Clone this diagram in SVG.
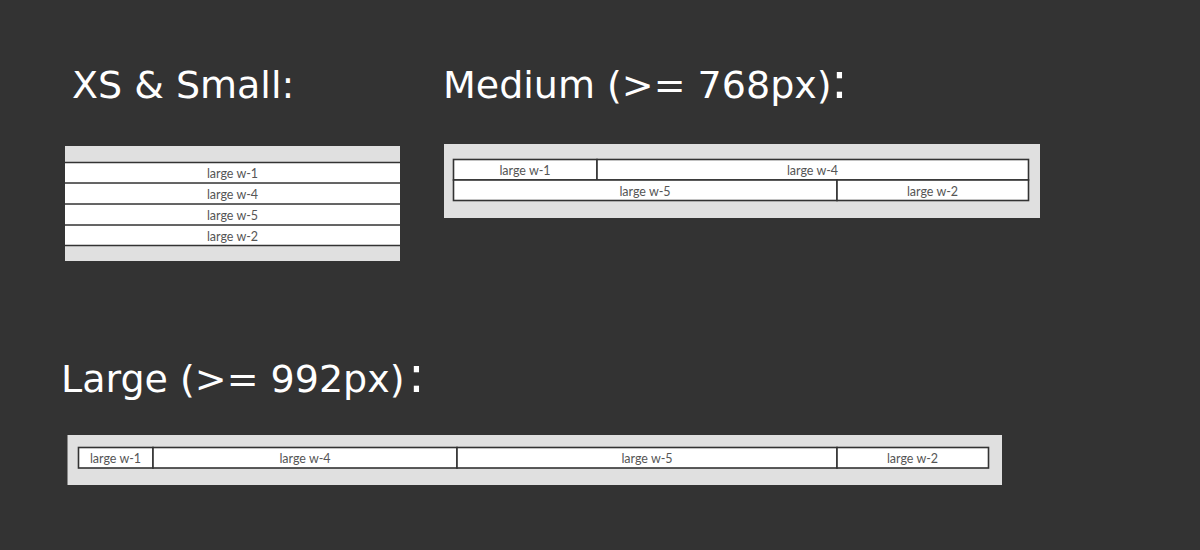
<svg xmlns="http://www.w3.org/2000/svg" width="1200" height="550" viewBox="0 0 1200 550">
<style>
.title{font-family:"DejaVu Sans","Liberation Sans",sans-serif;font-size:38px;fill:#ffffff}
.colon{font-family:"DejaVu Sans","Liberation Sans",sans-serif;font-size:50px;fill:#ffffff}
.panel{fill:#e0e0e0}
.cell{fill:#ffffff;stroke:#333333;stroke-width:1.6}
.line{stroke:#333333;stroke-width:1.6}
.lbl{font-family:Lato,"Open Sans",sans-serif;font-size:12.5px;fill:#555555;text-anchor:middle}
</style>
<rect width="1200" height="550" fill="#333333"/>

<g id="titles">
<text class="title" x="72" y="98">XS &amp; Small:</text>
<text class="title" x="443" y="98">Medium (&gt;= 768px)</text>
<text class="colon" x="831" y="98">:</text>
<text class="title" x="61" y="392">Large (&gt;= 992px)</text>
<text class="colon" x="408" y="392">:</text>
</g>

<g id="xs-small">
<rect class="panel" x="65" y="146" width="335" height="115"/>
<g id="xs-w1"><rect x="65" y="162.5" width="335" height="21" fill="#fff"/><text class="lbl" x="232.5" y="177.5">large w-1</text></g>
<g id="xs-w4"><rect x="65" y="183.5" width="335" height="21" fill="#fff"/><text class="lbl" x="232.5" y="198.5">large w-4</text></g>
<g id="xs-w5"><rect x="65" y="204.5" width="335" height="21" fill="#fff"/><text class="lbl" x="232.5" y="219.5">large w-5</text></g>
<g id="xs-w2"><rect x="65" y="225.5" width="335" height="20" fill="#fff"/><text class="lbl" x="232.5" y="240.5">large w-2</text></g>
<line class="line" x1="65" y1="162.5" x2="400" y2="162.5"/>
<line class="line" x1="65" y1="183" x2="400" y2="183"/>
<line class="line" x1="65" y1="204" x2="400" y2="204"/>
<line class="line" x1="65" y1="225" x2="400" y2="225"/>
<line class="line" x1="65" y1="245.5" x2="400" y2="245.5"/>
</g>

<g id="medium">
<rect class="panel" x="444" y="144" width="596" height="74"/>
<g id="md-w1"><rect class="cell" x="453.5" y="159.5" width="143.5" height="20.5"/><text class="lbl" x="525" y="175">large w-1</text></g>
<g id="md-w4"><rect class="cell" x="597" y="159.5" width="431.5" height="20.5"/><text class="lbl" x="812.5" y="175">large w-4</text></g>
<g id="md-w5"><rect class="cell" x="453.5" y="180" width="383.5" height="20.5"/><text class="lbl" x="645" y="195.5">large w-5</text></g>
<g id="md-w2"><rect class="cell" x="837" y="180" width="191.5" height="20.5"/><text class="lbl" x="932.5" y="195.5">large w-2</text></g>
</g>

<g id="large">
<rect class="panel" x="67.5" y="435" width="934.5" height="50"/>
<g id="lg-w1"><rect class="cell" x="78.5" y="447.5" width="74.5" height="20.5"/><text class="lbl" x="115.5" y="463">large w-1</text></g>
<g id="lg-w4"><rect class="cell" x="153" y="447.5" width="304" height="20.5"/><text class="lbl" x="305" y="463">large w-4</text></g>
<g id="lg-w5"><rect class="cell" x="457" y="447.5" width="380" height="20.5"/><text class="lbl" x="647" y="463">large w-5</text></g>
<g id="lg-w2"><rect class="cell" x="837" y="447.5" width="151.5" height="20.5"/><text class="lbl" x="912.5" y="463">large w-2</text></g>
</g>

<g id="connectors"></g>
</svg>
